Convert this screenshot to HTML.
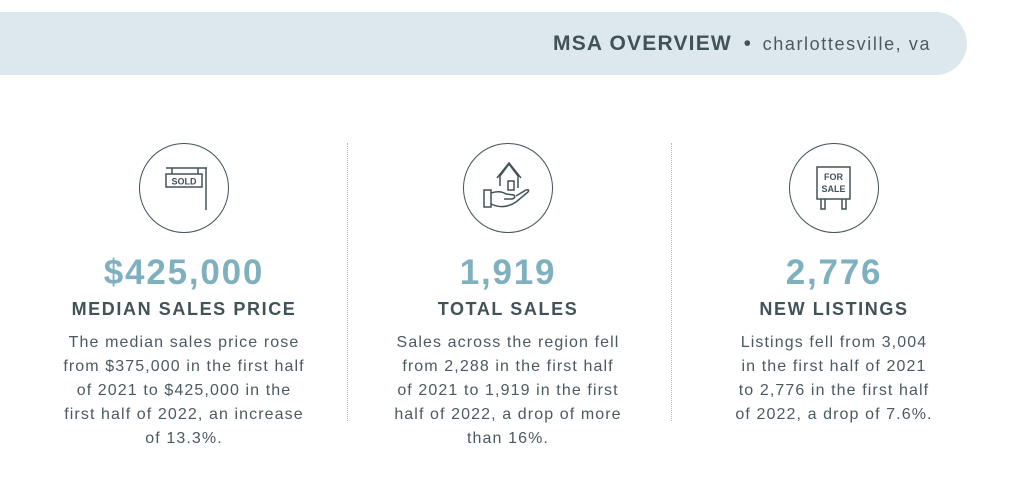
<!DOCTYPE html>
<html><head><meta charset="utf-8"><style>
body{margin:0;width:1024px;height:493px;background:#fff;font-family:"Liberation Sans",sans-serif;color:#425259;position:relative;overflow:hidden}
.banner{position:absolute;left:0;top:12px;width:967px;height:63px;background:#dde8ec;border-radius:0 32px 32px 0}
.bt{position:absolute;left:553px;top:30px;white-space:nowrap;font-size:21px;line-height:28px}
.bt b{letter-spacing:1.2px}
.bt span{font-size:18px;letter-spacing:1.6px;color:#4a5a61}
.col{position:absolute;top:0;width:320px;text-align:center}
.circ{position:absolute;top:143px;width:88px;height:88px;border:1.6px solid #425259;border-radius:50%;left:115px}
.num{position:absolute;top:253px;width:320px;font-size:35px;font-weight:bold;color:#7fb0bf;letter-spacing:1.8px}
.ttl{position:absolute;top:299px;width:320px;font-size:18px;font-weight:bold;letter-spacing:1.6px}
.body{position:absolute;top:331px;width:320px;font-size:16px;line-height:24px;letter-spacing:1.1px;color:#4a5a61}
.div{position:absolute;top:143px;height:278px;border-left:1px dotted #9cc0cc}
</style></head><body>
<div class="banner"></div>
<div class="bt"><b>MSA OVERVIEW</b> &nbsp;•&nbsp; <span>charlottesville, va</span></div>
<div class="div" style="left:347px"></div>
<div class="div" style="left:671px"></div>

<div class="col" style="left:24px">
<div class="circ"><svg width="88" height="88" viewBox="0 0 88 88" fill="none" stroke="#425259" stroke-width="1.5"><line x1="26" y1="24" x2="67" y2="24"/><line x1="66" y1="24" x2="66" y2="66"/><line x1="32" y1="24" x2="32" y2="30"/><line x1="58" y1="24" x2="58" y2="30"/><rect x="26" y="30" width="36" height="13"/><text x="44" y="40.5" font-size="9" font-weight="bold" fill="#425259" stroke="none" text-anchor="middle" font-family="Liberation Sans">SOLD</text></svg></div>
<div class="num">$425,000</div>
<div class="ttl">MEDIAN SALES PRICE</div>
<div class="body">The median sales price rose<br>from $375,000 in the first half<br>of 2021 to $425,000 in the<br>first half of 2022, an increase<br>of 13.3%.</div>
</div>

<div class="col" style="left:348px">
<div class="circ"><svg width="88" height="88" viewBox="0 0 88 88" fill="none" stroke="#425259" stroke-width="1.5"><path d="M36 42 V32 L45 20 L54 32 V44"/><path d="M33 34 L45 19 L57 34"/><rect x="44" y="37" width="6" height="9"/><path d="M20 46 H27 V63 H20 Z"/><path d="M27 49 Q36 46 42 50 L50 51 Q52 54 48 55 L40 55"/><path d="M27 60 Q40 66 52 58 L64 48 Q66 45 62 46 L52 52"/></svg></div>
<div class="num">1,919</div>
<div class="ttl">TOTAL SALES</div>
<div class="body">Sales across the region fell<br>from 2,288 in the first half<br>of 2021 to 1,919 in the first<br>half of 2022, a drop of more<br>than 16%.</div>
</div>

<div class="col" style="left:674px">
<div class="circ"><svg width="88" height="88" viewBox="0 0 88 88" fill="none" stroke="#425259" stroke-width="1.5"><rect x="27" y="23" width="33" height="32"/><text x="43.5" y="36" font-size="9" font-weight="bold" fill="#425259" stroke="none" text-anchor="middle" font-family="Liberation Sans">FOR</text><text x="43.5" y="48" font-size="9" font-weight="bold" fill="#425259" stroke="none" text-anchor="middle" font-family="Liberation Sans">SALE</text><path d="M31 55 V65 H35 V55"/><path d="M52 55 V65 H56 V55"/></svg></div>
<div class="num">2,776</div>
<div class="ttl">NEW LISTINGS</div>
<div class="body">Listings fell from 3,004<br>in the first half of 2021<br>to 2,776 in the first half<br>of 2022, a drop of 7.6%.</div>
</div>
</body></html>
